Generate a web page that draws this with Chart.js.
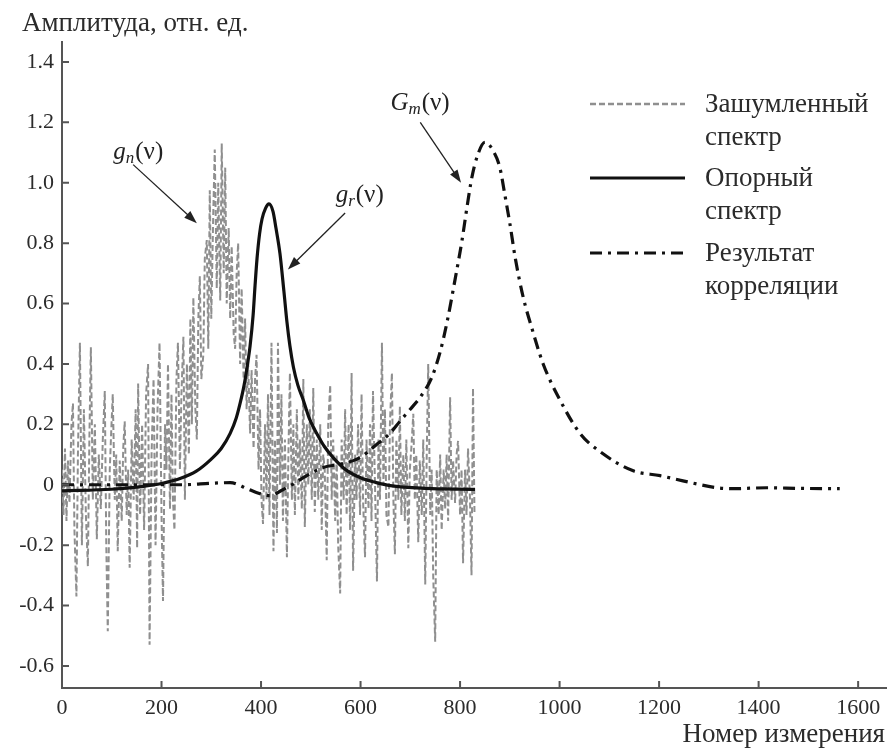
<!DOCTYPE html>
<html>
<head>
<meta charset="utf-8">
<script src="https://cdn.jsdelivr.net/npm/chart.js@4.4.1/dist/chart.umd.min.js"></script>
<style>
  html, body { margin: 0; padding: 0; background: #fff; }
</style>
</head>
<body>
<canvas id="chart" width="889" height="752"></canvas>
<script>
// axis ticks
const xTicks = [0, 200, 400, 600, 800, 1000, 1200, 1400, 1600];
const yTicks = [-0.6, -0.4, -0.2, 0, 0.2, 0.4, 0.6, 0.8, 1.0, 1.2, 1.4];

// noisy spectrum g_n
const noiseX = [0, 3, 6, 9, 12, 15, 19, 22, 25, 29, 32, 36, 40, 44, 48, 52, 55, 58, 62, 66,
  70, 74, 78, 82, 86, 89, 92, 96, 99, 102, 106, 109, 112, 116, 120, 123, 126, 130, 133, 136,
  140, 144, 148, 151, 153, 157, 161, 165, 169, 173, 176, 180, 184, 188, 192, 196, 200, 203, 207, 210,
  213, 217, 220, 223, 226, 230, 233, 237, 240, 244, 247, 251, 255, 258, 261, 264, 268, 271, 274, 277,
  280, 284, 287, 291, 294, 297, 300, 304, 307, 311, 314, 318, 321, 325, 328, 331, 335, 338, 341, 345,
  348, 351, 354, 358, 361, 365, 368, 371, 374, 378, 381, 385, 388, 391, 395, 398, 401, 404, 408, 411,
  414, 417, 421, 425, 428, 432, 434, 438, 441, 444, 448, 452, 455, 458, 462, 465, 468, 472, 475, 478,
  482, 485, 488, 492, 495, 498, 502, 505, 508, 512, 515, 519, 522, 525, 528, 532, 535, 539, 542, 545,
  549, 552, 555, 559, 562, 566, 569, 572, 576, 579, 582, 585, 589, 592, 595, 599, 602, 605, 609, 612,
  616, 619, 622, 625, 629, 633, 636, 639, 643, 646, 649, 652, 656, 659, 663, 666, 669, 672, 676, 679,
  682, 686, 689, 692, 696, 699, 702, 706, 709, 712, 716, 719, 723, 726, 730, 733, 736, 740, 743, 746,
  750, 753, 757, 760, 763, 767, 770, 773, 776, 780, 783, 786, 790, 793, 796, 800, 803, 806, 810, 813,
  816, 820, 823, 826, 829];
const noiseY = [0.05, -0.10, 0.12, -0.12, 0.08, -0.06, 0.20, 0.27, -0.15, -0.37, 0.10, 0.47, -0.20, 0.25, -0.10, -0.27, 0.15, 0.455, -0.05, 0.20,
  -0.18, 0.10, -0.08, 0.15, 0.31, -0.20, -0.485, 0.05, 0.18, 0.30, -0.05, 0.10, -0.22, 0.08, -0.12, 0.12, 0.21, -0.10, 0.05, -0.275,
  0.15, -0.05, 0.25, -0.21, 0.335, -0.10, 0.20, -0.15, 0.30, 0.40, -0.53, 0.10, 0.35, -0.20, 0.25, 0.47, -0.10, -0.385, 0.20, 0.05,
  0.40, -0.08, 0.30, -0.05, -0.15, 0.35, 0.47, 0.05, 0.30, 0.49, -0.05, 0.40, 0.10, 0.55, 0.20, 0.62, 0.25, 0.15, 0.55, 0.69,
  0.35, 0.43, 0.75, 0.81, 0.45, 0.975, 0.55, 0.90, 1.11, 0.65, 1.00, 0.61, 1.13, 0.70, 1.05, 0.60, 0.85, 0.55, 0.79, 0.50,
  0.45, 0.70, 0.80, 0.40, 0.65, 0.35, 0.55, 0.25, 0.41, 0.17, 0.38, 0.12, 0.35, 0.43, 0.05, 0.25, -0.05, -0.13, 0.20, -0.05,
  0.30, -0.10, 0.47, -0.22, 0.15, -0.16, 0.47, 0.00, 0.30, -0.12, 0.15, -0.24, 0.10, 0.37, -0.05, 0.20, -0.10, 0.25, -0.05, 0.15,
  -0.08, 0.35, -0.14, 0.20, 0.00, 0.25, -0.05, 0.32, -0.09, 0.15, -0.05, 0.20, -0.15, 0.10, 0.05, -0.25, 0.20, 0.33, -0.05, 0.15,
  -0.12, 0.10, -0.20, -0.36, 0.15, -0.05, 0.25, -0.10, 0.20, -0.15, 0.37, -0.285, 0.10, -0.05, 0.20, -0.10, 0.30, -0.05, -0.24, 0.15,
  -0.08, 0.20, -0.12, 0.31, 0.00, -0.32, 0.15, -0.05, 0.47, 0.00, 0.25, -0.10, -0.14, 0.20, 0.37, -0.05, -0.23, 0.15, -0.05, 0.26,
  -0.10, 0.10, -0.12, 0.15, -0.21, 0.05, 0.12, 0.235, -0.05, 0.10, -0.19, 0.08, -0.10, 0.15, -0.33, 0.10, 0.40, -0.10, 0.05, -0.30,
  -0.52, 0.05, -0.10, 0.10, -0.15, 0.05, -0.08, 0.10, -0.12, 0.29, -0.05, 0.08, -0.06, 0.10, 0.145, -0.10, 0.05, -0.26, 0.05, -0.10,
  0.12, -0.05, -0.30, 0.32, -0.10];

// reference spectrum g_r
const refX = [0, 100, 160, 200, 240, 270, 300, 320, 338, 350, 358, 366, 372, 378, 384, 388, 392, 397, 402, 409, 416,
  424, 430, 438, 446, 452, 458, 465, 474, 485, 497, 512, 528, 545, 570, 600, 630, 660, 730, 830];
const refY = [-0.02, -0.015, -0.006, 0.004, 0.022, 0.045, 0.085, 0.12, 0.17, 0.22, 0.27, 0.33, 0.39, 0.46, 0.56, 0.66, 0.75, 0.83, 0.88, 0.915, 0.93,
  0.905, 0.85, 0.766, 0.64, 0.54, 0.46, 0.39, 0.33, 0.28, 0.22, 0.17, 0.125, 0.09, 0.05, 0.023, 0.008, -0.003, -0.012, -0.015];

// correlation result G_m
const corrX = [0, 60, 120, 180, 243, 300, 338, 372, 395, 418, 440, 465, 492, 525, 565, 599, 630, 659, 679, 700,
  720, 743, 760, 774, 790, 804, 814, 824, 835, 850, 865, 880, 890, 900, 911, 927, 944, 967, 1001, 1041,
  1081, 1148, 1202, 1248, 1316, 1349, 1416, 1483, 1563];
const corrY = [0, 0, 0, 0, 0, 0.005, 0.007, -0.013, -0.028, -0.036, -0.02, 0.003, 0.03, 0.057, 0.07, 0.09, 0.13, 0.17, 0.21, 0.25,
  0.29, 0.355, 0.44, 0.54, 0.68, 0.81, 0.92, 1.02, 1.09, 1.134, 1.11, 1.05, 0.96, 0.866, 0.75, 0.62, 0.52, 0.40, 0.28, 0.17,
  0.11, 0.046, 0.03, 0.013, -0.01, -0.013, -0.01, -0.012, -0.013];

const seriesNames = [['Зашумленный', 'спектр'], ['Опорный', 'спектр'], ['Результат', 'корреляции']];

const toPoints = (xs, ys) => xs.map((x, i) => ({ x: x, y: ys[i] }));

const serif = '"Liberation Serif", "DejaVu Serif", serif';
const textColor = '#2b2b2b';
const axisColor = '#555';

function arrow(ctx, x1, y1, x2, y2) {
  const ang = Math.atan2(y2 - y1, x2 - x1);
  ctx.beginPath();
  ctx.moveTo(x1, y1);
  ctx.lineTo(x2 - 8 * Math.cos(ang), y2 - 8 * Math.sin(ang));
  ctx.stroke();
  ctx.beginPath();
  ctx.moveTo(x2, y2);
  ctx.lineTo(x2 - 13 * Math.cos(ang) + 4.5 * Math.sin(ang), y2 - 13 * Math.sin(ang) - 4.5 * Math.cos(ang));
  ctx.lineTo(x2 - 13 * Math.cos(ang) - 4.5 * Math.sin(ang), y2 - 13 * Math.sin(ang) + 4.5 * Math.cos(ang));
  ctx.closePath();
  ctx.fill();
}

// label like g_n(ν): italic letter, italic subscript, upright bracket
function funcLabel(ctx, x, y, letter, sub) {
  ctx.textAlign = 'left';
  ctx.textBaseline = 'alphabetic';
  ctx.font = 'italic 25px ' + serif;
  ctx.fillText(letter, x, y);
  let w = ctx.measureText(letter).width;
  ctx.font = 'italic 17px ' + serif;
  ctx.fillText(sub, x + w, y + 4);
  w += ctx.measureText(sub).width + 1;
  ctx.font = '25px ' + serif;
  ctx.fillText('(ν)', x + w, y);
}

const decor = {
  id: 'decor',
  afterDraw(chart) {
    const ctx = chart.ctx;
    const xs = chart.scales.x, ys = chart.scales.y, a = chart.chartArea;
    const px = v => xs.getPixelForValue(v);
    const py = v => ys.getPixelForValue(v);
    ctx.save();

    // inward tick marks
    ctx.strokeStyle = axisColor;
    ctx.lineWidth = 2;
    ctx.beginPath();
    yTicks.forEach(v => { ctx.moveTo(a.left, py(v)); ctx.lineTo(a.left + 7, py(v)); });
    xTicks.forEach(v => { ctx.moveTo(px(v), a.bottom); ctx.lineTo(px(v), a.bottom - 7); });
    ctx.stroke();

    // axis titles
    ctx.fillStyle = textColor;
    ctx.font = '27px ' + serif;
    ctx.textBaseline = 'alphabetic';
    ctx.textAlign = 'left';
    ctx.fillText('Амплитуда, отн. ед.', 22, 31);
    ctx.textAlign = 'right';
    ctx.fillText('Номер измерения', 885, 742);

    // annotations
    ctx.strokeStyle = '#222';
    ctx.fillStyle = '#222';
    ctx.lineWidth = 1.3;
    funcLabel(ctx, px(103), py(1.08), 'g', 'n');
    arrow(ctx, px(143), py(1.06), px(271), py(0.866));
    funcLabel(ctx, px(550), py(0.935), 'g', 'r');
    arrow(ctx, px(569), py(0.90), px(454), py(0.713));
    funcLabel(ctx, px(660), py(1.24), 'G', 'm');
    arrow(ctx, px(720), py(1.20), px(802), py(1.0));

    // legend
    const rows = [104, 178, 253];
    chart.data.datasets.forEach((ds, i) => {
      ctx.strokeStyle = ds.borderColor;
      ctx.lineWidth = Math.max(ds.borderWidth, 2.6);
      ctx.setLineDash(ds.borderDash || []);
      ctx.beginPath();
      ctx.moveTo(590, rows[i]);
      ctx.lineTo(685, rows[i]);
      ctx.stroke();
      ctx.setLineDash([]);
      ctx.fillStyle = textColor;
      ctx.font = '27px ' + serif;
      ctx.textAlign = 'left';
      ctx.fillText(seriesNames[i][0], 705, rows[i] + 8);
      ctx.fillText(seriesNames[i][1], 705, rows[i] + 41);
    });
    ctx.restore();
  }
};

new Chart(document.getElementById('chart'), {
  type: 'line',
  data: {
    datasets: [
      {
        label: 'Зашумленный спектр',
        data: toPoints(noiseX, noiseY),
        borderColor: '#8f8f8f',
        borderWidth: 2,
        borderDash: [6, 3],
        pointRadius: 0,
        tension: 0,
        order: 3
      },
      {
        label: 'Опорный спектр',
        data: toPoints(refX, refY),
        borderColor: '#111',
        borderWidth: 3.2,
        pointRadius: 0,
        cubicInterpolationMode: 'monotone',
        order: 1
      },
      {
        label: 'Результат корреляции',
        data: toPoints(corrX, corrY),
        borderColor: '#111',
        borderWidth: 3.2,
        borderDash: [12, 6, 3, 6],
        pointRadius: 0,
        cubicInterpolationMode: 'monotone',
        order: 2
      }
    ]
  },
  options: {
    responsive: false,
    animation: false,
    layout: { padding: { top: 42, right: 3, left: 0, bottom: 0 } },
    plugins: { legend: { display: false }, tooltip: { enabled: false } },
    scales: {
      x: {
        type: 'linear',
        min: 0,
        max: 1656,
        afterBuildTicks: s => { s.ticks = xTicks.map(v => ({ value: v })); },
        afterFit: s => { s.height = 64; },
        grid: { drawOnChartArea: false, drawTicks: false, color: 'rgba(0,0,0,0)' },
        border: { display: true, color: axisColor, width: 2 },
        ticks: {
          padding: 7,
          color: textColor,
          font: { family: serif, size: 22 },
          maxRotation: 0,
          callback: v => String(v)
        }
      },
      y: {
        min: -0.673,
        max: 1.466,
        afterBuildTicks: s => { s.ticks = yTicks.map(v => ({ value: v })); },
        afterFit: s => { s.width = 62; },
        grid: { drawOnChartArea: false, drawTicks: false, color: 'rgba(0,0,0,0)' },
        border: { display: true, color: axisColor, width: 2 },
        ticks: {
          padding: 8,
          color: textColor,
          font: { family: serif, size: 22 },
          callback: v => (Math.abs(v) < 1e-9 ? '0' : v.toFixed(1))
        }
      }
    }
  },
  plugins: [decor]
});
</script>
</body>
</html>
